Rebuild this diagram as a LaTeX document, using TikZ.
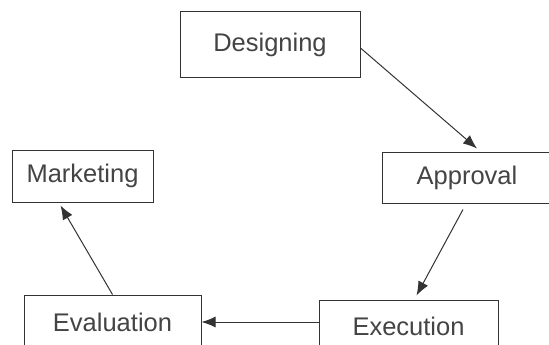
\documentclass[tikz,border=0pt]{standalone}
\usepackage{fontspec}
\setmainfont{Liberation Sans}
\usepackage{tikz}
\usetikzlibrary{arrows.meta}
\definecolor{ink}{HTML}{333333}
\definecolor{txt}{HTML}{444444}

\begin{document}
\begin{tikzpicture}[x=1pt,y=-1pt,>={Latex[length=14pt,width=11pt]},
  stage/.style={draw=ink,line width=1pt,fill=white,text=txt,inner sep=0pt,
    font=\fontsize{25.5}{30}\selectfont},
  link/.style={draw=ink,line width=1pt,->}]
\useasboundingbox (0,0) rectangle (549,345);
\clip (0,0) rectangle (549,345);
\node[stage,minimum width=180pt,minimum height=66pt] (designing) at (270,45) {Designing};
\node[stage,minimum width=170pt,minimum height=51pt] (approval) at (467,177.5) {Approval};
\node[stage,minimum width=141pt,minimum height=52pt] (marketing) at (82.5,176) {Marketing};
\node[stage,minimum width=177pt,minimum height=54pt] (evaluation) at (112.5,322) {Evaluation};
\node[stage,minimum width=179pt,minimum height=52pt] (execution) at (408.5,326) {Execution};
\draw[link] ([yshift=-3pt]designing.east) -- ([xshift=10pt,yshift=3pt]approval.north);
\draw[link] ([xshift=-4pt,yshift=-6pt]approval.south) -- ([xshift=8pt,yshift=4pt]execution.north);
\draw[link] ([yshift=4pt]execution.west) -- (evaluation.east);
\draw[link] (evaluation.north) -- ([xshift=-22pt,yshift=-3pt]marketing.south);
\end{tikzpicture}
\end{document}
